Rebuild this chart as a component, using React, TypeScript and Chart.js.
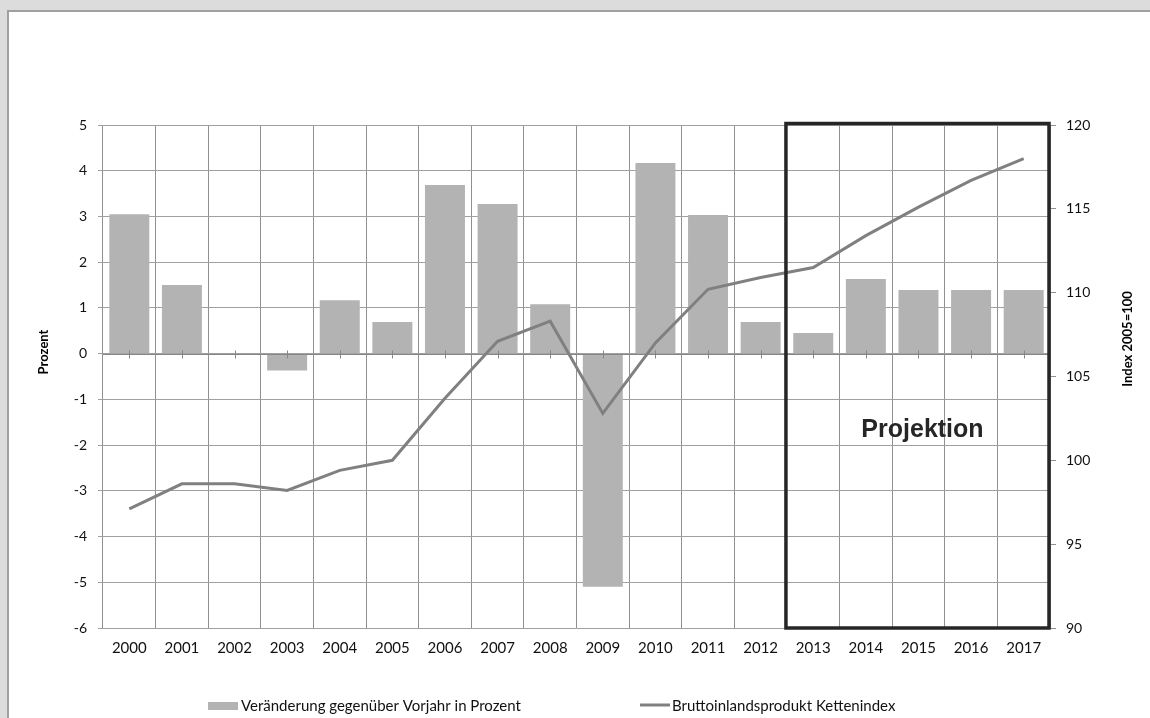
import React, { useEffect, useRef } from "react";
import { Chart, registerables } from "chart.js";

Chart.register(...registerables);

const years = [
  "2000", "2001", "2002", "2003", "2004", "2005", "2006", "2007", "2008",
  "2009", "2010", "2011", "2012", "2013", "2014", "2015", "2016", "2017",
];
const changePct = [
  3.05, 1.5, 0, -0.37, 1.17, 0.69, 3.69, 3.27, 1.08,
  -5.1, 4.17, 3.03, 0.69, 0.45, 1.63, 1.39, 1.39, 1.39,
];
const gdpIndex = [
  97.1, 98.6, 98.6, 98.2, 99.4, 100.0, 103.7, 107.1, 108.3,
  102.8, 107.0, 110.2, 110.9, 111.5, 113.4, 115.1, 116.7, 118.0,
];
const leftAxisRange = [-6, 5];
const rightAxisRange = [90, 120];
const seriesNames = [
  "Veränderung gegenüber Vorjahr in Prozent",
  "Bruttoinlandsprodukt Kettenindex",
];
const axisTitles = ["Prozent", "Index 2005=100"];
const projectionStart = "2013";
const projectionLabel = "Projektion";

const BAR_COLOR = "#b3b3b3";
const LINE_COLOR = "#808080";
const TEXT_COLOR = "#111111";
const FONT = "Lato, 'Open Sans', sans-serif";

const overlayPlugin = {
  id: "overlay",
  afterDraw(chart: any) {
    const { ctx, chartArea, scales } = chart;
    const x = scales.x;
    const y = scales.y;
    ctx.save();

    // zero axis line with tick marks at category centres
    const y0 = Math.round(y.getPixelForValue(0)) + 0.5;
    ctx.strokeStyle = "#868686";
    ctx.lineWidth = 1;
    ctx.beginPath();
    ctx.moveTo(chartArea.left, y0);
    ctx.lineTo(chartArea.right, y0);
    for (let i = 0; i < years.length; i++) {
      const px = Math.round(x.getPixelForValue(i)) + 0.5;
      ctx.moveTo(px, y0 - 4);
      ctx.lineTo(px, y0 + 4);
    }
    ctx.stroke();

    // projection box
    const idx = years.indexOf(projectionStart);
    const bx = (x.getPixelForValue(idx - 1) + x.getPixelForValue(idx)) / 2 - 1;
    const bRight = chartArea.right - 1;
    const bTop = chartArea.top - 1.5;
    const bBottom = chartArea.bottom;
    ctx.strokeStyle = "#262626";
    ctx.lineWidth = 3.5;
    ctx.strokeRect(bx, bTop, bRight - bx, bBottom - bTop);

    ctx.fillStyle = "#262626";
    ctx.font = "bold 25px 'Liberation Sans', Arial, sans-serif";
    ctx.textAlign = "center";
    ctx.textBaseline = "alphabetic";
    ctx.fillText(projectionLabel, (bx + bRight) / 2 + 5, y.getPixelForValue(-1.82));

    // axis titles (both read bottom-to-top)
    ctx.fillStyle = "#000";
    ctx.font = `bold 13px ${FONT}`;
    ctx.textBaseline = "middle";
    ctx.save();
    ctx.translate(44, 352);
    ctx.rotate(-Math.PI / 2);
    ctx.fillText(axisTitles[0], 0, 0);
    ctx.restore();
    ctx.save();
    ctx.translate(1128, 339);
    ctx.rotate(-Math.PI / 2);
    ctx.fillText(axisTitles[1], 0, 0);
    ctx.restore();

    // legend
    ctx.font = `15px ${FONT}`;
    ctx.textAlign = "left";
    ctx.fillStyle = BAR_COLOR;
    ctx.fillRect(208, 702, 30, 8);
    ctx.fillStyle = TEXT_COLOR;
    ctx.fillText(seriesNames[0], 241, 706);
    ctx.strokeStyle = LINE_COLOR;
    ctx.lineWidth = 3;
    ctx.beginPath();
    ctx.moveTo(640, 705);
    ctx.lineTo(670, 705);
    ctx.stroke();
    ctx.fillStyle = TEXT_COLOR;
    ctx.fillText(seriesNames[1], 672, 706);

    ctx.restore();
  },
};

export default function App() {
  const ref = useRef<HTMLCanvasElement | null>(null);

  useEffect(() => {
    if (!ref.current) return;
    const chart = new Chart(ref.current, {
      type: "bar",
      data: {
        labels: years,
        datasets: [
          {
            type: "line",
            label: seriesNames[1],
            data: gdpIndex,
            yAxisID: "y1",
            borderColor: LINE_COLOR,
            borderWidth: 3,
            pointRadius: 0,
            tension: 0,
            order: 0,
          } as any,
          {
            type: "bar",
            label: seriesNames[0],
            data: changePct,
            yAxisID: "y",
            backgroundColor: BAR_COLOR,
            borderWidth: 0,
            barPercentage: 0.76,
            categoryPercentage: 1,
            order: 1,
          },
        ],
      },
      options: {
        responsive: false,
        animation: false,
        devicePixelRatio: 1,
        layout: { padding: { top: 125, left: 0, right: 0, bottom: 0 } },
        plugins: {
          legend: { display: false },
          tooltip: { enabled: false },
        },
        scales: {
          x: {
            offset: true,
            grid: { offset: true, color: "#909090", drawTicks: false, lineWidth: 1 },
            border: { display: false },
            ticks: { color: TEXT_COLOR, font: { family: FONT, size: 15 }, padding: 11, maxRotation: 0, autoSkip: false },
            afterFit: (s: any) => { s.height = 90; },
          },
          y: {
            position: "left",
            min: leftAxisRange[0],
            max: leftAxisRange[1],
            ticks: { stepSize: 1, color: TEXT_COLOR, font: { family: FONT, size: 14 }, padding: 11 },
            grid: { color: "#a0a0a0", tickLength: 5, drawTicks: true },
            border: { display: false },
            afterFit: (s: any) => { s.width = 103; },
          },
          y1: {
            position: "right",
            min: rightAxisRange[0],
            max: rightAxisRange[1],
            ticks: { stepSize: 5, color: TEXT_COLOR, font: { family: FONT, size: 14 }, padding: 10 },
            grid: { drawOnChartArea: false, tickLength: 6, drawTicks: true, tickColor: "#909090" },
            border: { display: false },
            afterFit: (s: any) => { s.width = 100; },
          },
        },
      },
      plugins: [overlayPlugin],
    });
    if ((document as any).fonts) {
      (document as any).fonts.load(`14px Lato`).then(() => chart.update()).catch(() => {});
    }
    return () => chart.destroy();
  }, []);

  return (
    <div style={{ position: "fixed", left: 0, top: 0, width: 1150, height: 718, background: "#dcdcdc", overflow: "hidden" }}>
      <div
        style={{
          position: "absolute",
          left: 7,
          top: 10,
          width: 1143,
          height: 708,
          background: "#ffffff",
          borderTop: "2px solid #a0a0a0",
          borderLeft: "2px solid #a0a0a0",
          boxSizing: "border-box",
        }}
      />
      <canvas ref={ref} width={1150} height={718} style={{ position: "absolute", left: 0, top: 0 }} />
    </div>
  );
}
